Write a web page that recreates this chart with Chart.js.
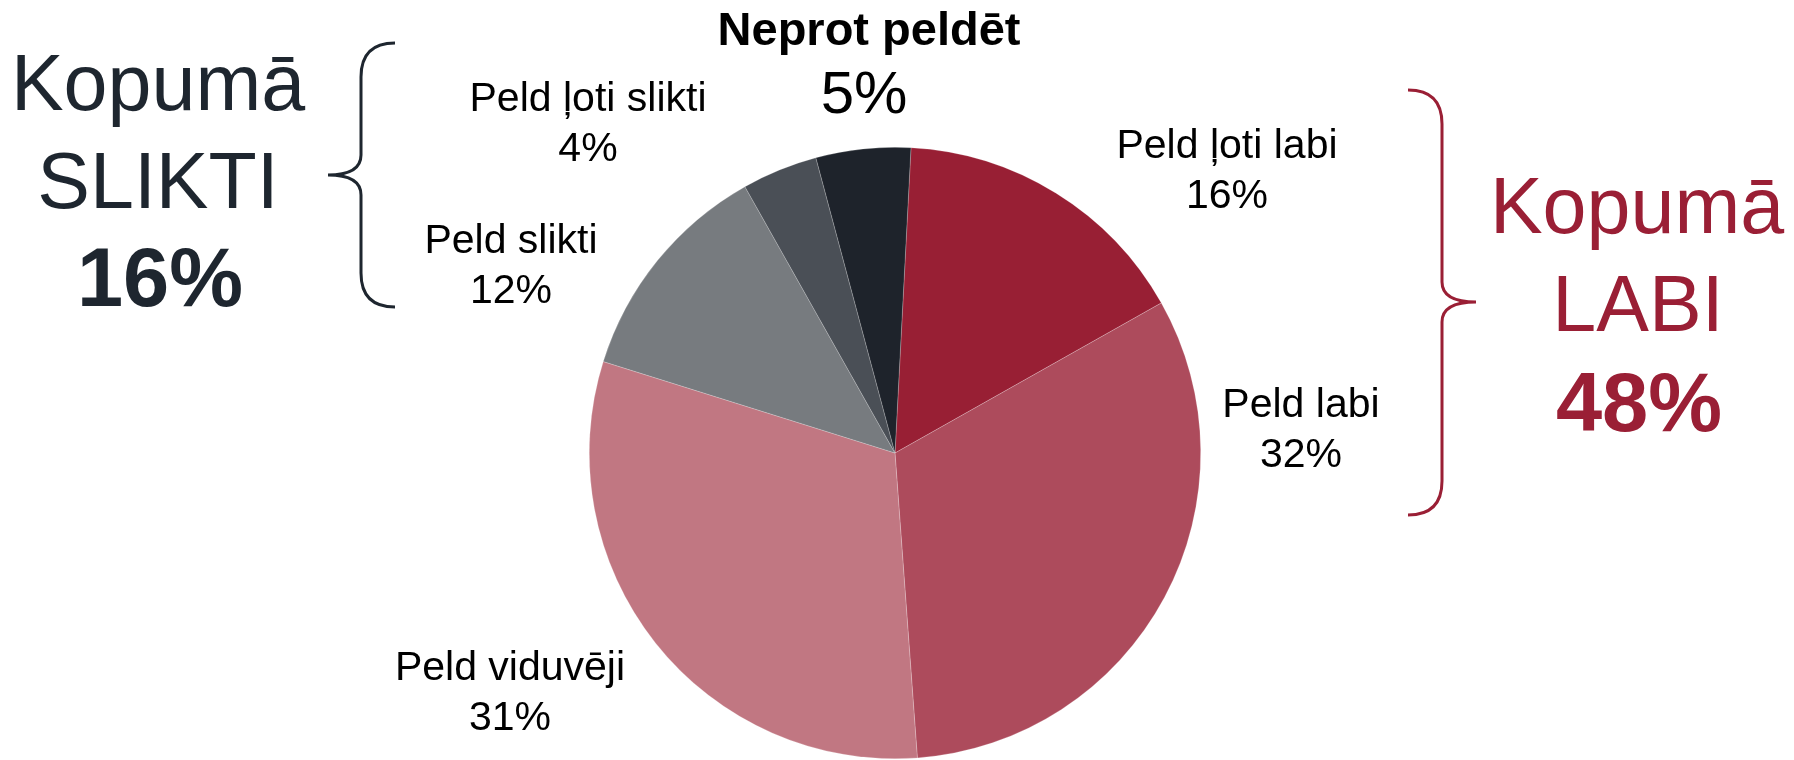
<!DOCTYPE html>
<html>
<head>
<meta charset="utf-8">
<script src="https://cdn.jsdelivr.net/npm/chart.js@4.4.0/dist/chart.umd.min.js"></script>
<style>
  html, body { margin: 0; padding: 0; background: #fff; }
  #wrap { position: relative; width: 1794px; height: 760px; }
</style>
</head>
<body>
<div id="wrap"><canvas id="pie-chart"></canvas></div>
<script>
const labels = ["Peld ļoti labi", "Peld labi", "Peld viduvēji", "Peld slikti", "Peld ļoti slikti", "Neprot peldēt"];
const values = [16, 32, 31, 12, 4, 5];
const colors = ["#981f34", "#ad4b5c", "#c17782", "#777b7f", "#4a4f56", "#1e232b"];

// groups for the side totals (indexes into values)
const goodGroup = [0, 1];
const badGroup = [3, 4];

// where each label sits, relative to the pie centre (first line baseline)
const labelOffsets = [[332, -295], [406, -36], [-385, 227], [-384, -200], [-307, -342], [-26, -408]];

const FONT = "'Liberation Sans', Arial, sans-serif";
const dark = "#1e262f";
const red = "#9a1f35";

function sum(idx) {
  return idx.reduce((a, i) => a + values[i], 0);
}

function brace(ctx, xEnd, xMid, xTip, yTop, yBot, yTip, color) {
  const r = 34;
  ctx.save();
  ctx.strokeStyle = color;
  ctx.lineWidth = 3;
  ctx.beginPath();
  ctx.moveTo(xEnd, yTop);
  ctx.quadraticCurveTo(xMid, yTop, xMid, yTop + r);
  ctx.lineTo(xMid, yTip - 20);
  ctx.quadraticCurveTo(xMid, yTip, xTip, yTip);
  ctx.quadraticCurveTo(xMid, yTip, xMid, yTip + 20);
  ctx.lineTo(xMid, yBot - r);
  ctx.quadraticCurveTo(xMid, yBot, xEnd, yBot);
  ctx.stroke();
  ctx.restore();
}

const pieLabels = {
  id: 'pieLabels',
  afterDraw(chart) {
    const ctx = chart.ctx;
    const arcs = chart.getDatasetMeta(0).data;
    const cx = arcs[0].x, cy = arcs[0].y;
    ctx.save();
    ctx.textAlign = 'center';
    ctx.textBaseline = 'alphabetic';
    ctx.fillStyle = '#000';
    labels.forEach((name, i) => {
      const x = cx + labelOffsets[i][0];
      const y = cy + labelOffsets[i][1];
      if (i === 5) {
        ctx.font = "bold 47px " + FONT;
        ctx.fillText(name, x, y);
        ctx.font = "60px " + FONT;
        ctx.fillText(values[i] + "%", x - 5, y + 68);
      } else {
        ctx.font = "41px " + FONT;
        ctx.fillText(name, x, y);
        ctx.fillText(values[i] + "%", x, y + 50);
      }
    });

    // totals on the left and right
    ctx.fillStyle = dark;
    ctx.font = "79px " + FONT;
    ctx.fillText("Kopumā", 158, 110);
    ctx.fillText("SLIKTI", 158, 208);
    ctx.font = "bold 83px " + FONT;
    ctx.fillText(sum(badGroup) + "%", 160, 306);

    ctx.fillStyle = red;
    ctx.font = "79px " + FONT;
    ctx.fillText("Kopumā", 1637, 233);
    ctx.fillText("LABI", 1638, 331);
    ctx.font = "bold 83px " + FONT;
    ctx.fillText(sum(goodGroup) + "%", 1639, 431);
    ctx.restore();

    brace(ctx, 395, 361, 328, 43, 307, 175, dark);
    brace(ctx, 1408, 1442, 1476, 90, 515, 302, red);
  }
};

new Chart(document.getElementById("pie-chart"), {
  type: 'pie',
  data: {
    labels: labels,
    datasets: [{
      data: values,
      backgroundColor: colors,
      borderColor: "rgba(255,255,255,0.35)",
      borderWidth: 0.6
    }]
  },
  options: {
    responsive: true,
    maintainAspectRatio: false,
    animation: false,
    events: [],
    rotation: 3,
    layout: { padding: { left: 589, right: 593, top: 147, bottom: 1 } },
    plugins: {
      legend: { display: false },
      tooltip: { enabled: false }
    }
  },
  plugins: [pieLabels]
});
</script>
</body>
</html>
